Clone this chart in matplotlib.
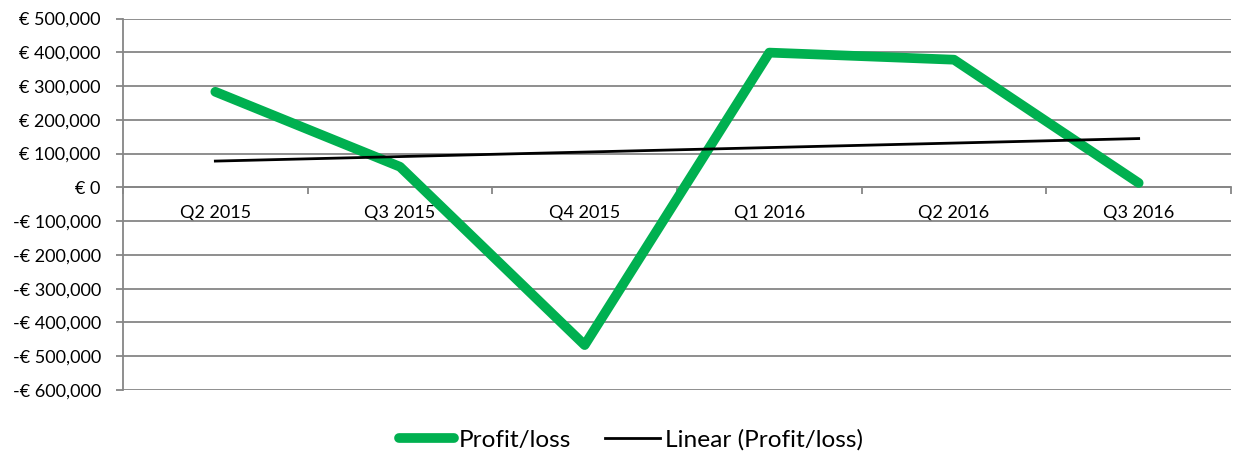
import matplotlib
matplotlib.use("Agg")
import matplotlib.pyplot as plt
import numpy as np
from matplotlib.ticker import FuncFormatter, FixedLocator

categories = ["Q2 2015", "Q3 2015", "Q4 2015", "Q1 2016", "Q2 2016", "Q3 2016"]
profit = [283000, 61000, -467000, 399000, 378000, 13000]

plt.rcParams['font.family'] = ['Lato', 'DejaVu Sans']

fig = plt.figure(figsize=(12.36, 4.57), dpi=100)
ax = fig.add_axes([123/1236, 1-390/457, (1231-123)/1236, (390-18.5)/457])

x = np.arange(1, len(categories) + 1)
coef = np.polyfit(x, profit, 1)
trend = np.polyval(coef, x)

grid_c = "#868686"
ax.set_ylim(-600000, 500000)
ax.set_xlim(0.5, len(categories) + 0.5)
ax.set_yticks(np.arange(-600000, 500001, 100000))
ax.yaxis.grid(True, color=grid_c, linewidth=1.3)
ax.set_axisbelow(True)

def fmt(v, pos):
    v = int(round(v))
    if v == 0:
        return "€ 0"
    s = f"€ {abs(v):,}"
    return ("-" + s) if v < 0 else s

ax.yaxis.set_major_formatter(FuncFormatter(fmt))
ax.tick_params(axis='y', length=5, width=1.3, color=grid_c, labelsize=13, pad=11, labelcolor="black")

for s in ['top', 'right']:
    ax.spines[s].set_visible(False)
ax.spines['left'].set_color(grid_c)
ax.spines['left'].set_linewidth(1.3)
ax.spines['bottom'].set_position(('data', 0))
ax.spines['bottom'].set_color(grid_c)
ax.spines['bottom'].set_linewidth(1.3)

ax.set_xticks(x)
ax.set_xticklabels(categories)
ax.xaxis.set_minor_locator(FixedLocator(np.arange(0.5, len(categories) + 1, 1.0)))
ax.tick_params(axis='x', which='major', length=0, pad=13, labelsize=13)
ax.tick_params(axis='x', which='minor', length=5, width=1.3, color=grid_c)

ax.plot(x, profit, color="#00B050", linewidth=7, solid_capstyle='round',
        solid_joinstyle='round', label="Profit/loss", zorder=3)
ax.plot(x, trend, color="black", linewidth=2, label="Linear (Profit/loss)", zorder=4)

fig.legend(loc='center', bbox_to_anchor=(631/1236, 1-440/457), ncol=2, frameon=False,
           fontsize=17.6, handlelength=2.25, handletextpad=0.2, columnspacing=1.4)

fig.savefig("out.png", dpi=100)
